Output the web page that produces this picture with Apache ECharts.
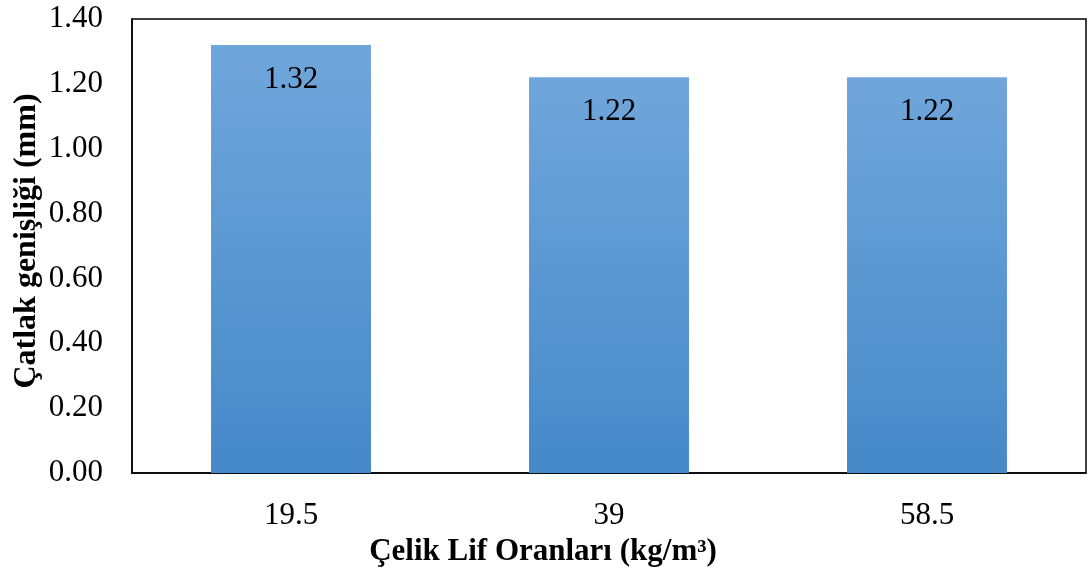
<!DOCTYPE html>
<html>
<head>
<meta charset="utf-8">
<style>
  html, body { margin: 0; padding: 0; background: #ffffff; }
  #chart { width: 1088px; height: 576px; }
</style>
<script src="https://cdn.jsdelivr.net/npm/echarts@6/dist/echarts.min.js"></script>
</head>
<body>
<div id="chart"></div>
<script>
// Steel fibre ratio (kg/m³) vs. crack width (mm)
const categories = ['19.5', '39', '58.5'];
const crackWidths = [1.32, 1.22, 1.22];
const xTitle = 'Çelik Lif Oranları (kg/m³)';
const yTitle = 'Çatlak genişliği (mm)';

const serif = '"Liberation Serif", "Times New Roman", serif';

const chart = echarts.init(document.getElementById('chart'), null, { renderer: 'canvas' });

chart.setOption({
  animation: false,
  backgroundColor: '#ffffff',
  grid: {
    left: 132, right: 2, top: 19, bottom: 103,
    show: true, borderColor: '#000000', borderWidth: 1.5,
    backgroundColor: 'transparent'
  },
  xAxis: {
    type: 'category',
    data: categories,
    axisLine: { show: true, lineStyle: { color: '#000000', width: 1.5 } },
    axisTick: { show: false },
    axisLabel: { color: '#000000', fontFamily: serif, fontSize: 31, margin: 27 }
  },
  yAxis: {
    type: 'value',
    min: 0, max: 1.4, interval: 0.2,
    axisLine: { show: true, lineStyle: { color: '#000000', width: 1.5 } },
    axisTick: { show: false },
    splitLine: { show: false },
    axisLabel: {
      color: '#000000', fontFamily: serif, fontSize: 31, margin: 29,
      formatter: v => v.toFixed(2)
    }
  },
  graphic: [
    {
      type: 'text',
      x: 543, y: 552,
      style: {
        text: xTitle,
        fill: '#000000',
        font: 'bold 31px ' + serif,
        textAlign: 'center',
        textVerticalAlign: 'middle'
      }
    },
    {
      type: 'text',
      x: 27, y: 241,
      rotation: Math.PI / 2,
      style: {
        text: yTitle,
        fill: '#000000',
        font: 'bold 32px ' + serif,
        textAlign: 'center',
        textVerticalAlign: 'middle'
      }
    }
  ],
  series: [{
    type: 'bar',
    data: crackWidths,
    barWidth: '50.3%',
    itemStyle: {
      color: new echarts.graphic.LinearGradient(0, 0, 0, 1, [
        { offset: 0, color: '#70a6db' },
        { offset: 1, color: '#4589c9' }
      ])
    },
    label: {
      show: true,
      position: 'insideTop',
      distance: 19,
      color: '#000000',
      fontFamily: serif,
      fontSize: 31,
      formatter: p => p.value.toFixed(2)
    }
  }]
});
</script>
</body>
</html>
